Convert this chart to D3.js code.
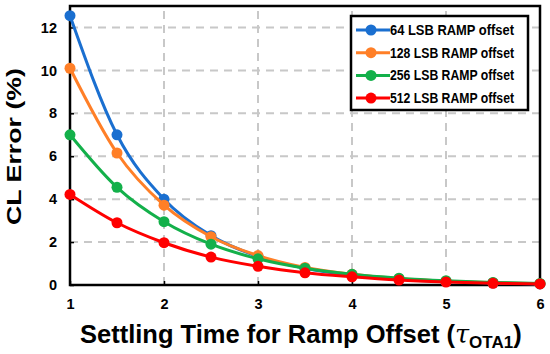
<!DOCTYPE html>
<html lang="en">
<head>
<meta charset="UTF-8">
<title>CL Error vs Settling Time</title>
<script src="https://cdnjs.cloudflare.com/ajax/libs/d3/7.8.5/d3.min.js"></script>
<style>
  body { margin: 0; background: #fff; }
  svg { display: block; font-family: Arial, "Liberation Sans", sans-serif; }
</style>
</head>
<body>
<div id="chart"></div>
<script>
    const settling = [1, 1.5, 2, 2.5, 3, 3.5, 4, 4.5, 5, 5.5, 6];
    const err64  = [12.55, 7.0, 4.0, 2.3, 1.33, 0.78, 0.46, 0.27, 0.16, 0.09, 0.05];
    const err128 = [10.1, 6.15, 3.72, 2.25, 1.37, 0.82, 0.5, 0.3, 0.18, 0.11, 0.06];
    const err256 = [7.0, 4.55, 2.95, 1.9, 1.22, 0.78, 0.5, 0.32, 0.2, 0.12, 0.07];
    const err512 = [4.22, 2.9, 1.97, 1.3, 0.87, 0.57, 0.38, 0.23, 0.14, 0.08, 0.05];
    const seriesNames = ["64 LSB RAMP offset", "128 LSB RAMP offset", "256 LSB RAMP offset", "512 LSB RAMP offset"];
    const seriesColors = ["#1a6fd0", "#ff7f27", "#13b04a", "#ff0000"];
    const xTicks = [1, 2, 3, 4, 5, 6];
    const yTicks = [0, 2, 4, 6, 8, 10, 12];

    const series = [err64, err128, err256, err512].map((vals, i) => ({
        name: seriesNames[i], color: seriesColors[i],
        points: vals.map((v, j) => ({ x: settling[j], y: v }))
    }));

    const width = 550, height = 354;
    const margin = { top: 6, right: 10, bottom: 69, left: 70 };

    const svg = d3.select("#chart").append("svg")
        .attr("width", width).attr("height", height);

    const x = d3.scaleLinear().domain([1, 6]).range([margin.left, width - margin.right]);
    const y = d3.scaleLinear().domain([0, 13]).range([height - margin.bottom, margin.top]);

    // grid
    const grid = svg.append("g").attr("stroke", "#c8c8c8").attr("stroke-width", 2)
        .attr("stroke-dasharray", "8,6");
    grid.selectAll("line.gx").data(xTicks.slice(1, -1)).enter().append("line")
        .attr("x1", d => x(d)).attr("x2", d => x(d))
        .attr("y1", y(0)).attr("y2", y(13));
    grid.selectAll("line.gy").data(yTicks.slice(1)).enter().append("line")
        .attr("x1", x(1)).attr("x2", x(6))
        .attr("y1", d => y(d)).attr("y2", d => y(d));

    // frame
    svg.append("rect")
        .attr("x", x(1)).attr("y", y(13))
        .attr("width", x(6) - x(1)).attr("height", y(0) - y(13))
        .attr("fill", "none").attr("stroke", "#000").attr("stroke-width", 2.5);

    // axes
    const xAxis = svg.append("g").attr("transform", `translate(0,${y(0)})`)
        .call(d3.axisBottom(x).tickValues(xTicks).tickSize(-4).tickPadding(14).tickFormat(d3.format("d")));
    const yAxis = svg.append("g").attr("transform", `translate(${x(1)},0)`)
        .call(d3.axisLeft(y).tickValues(yTicks).tickSize(-4).tickPadding(13).tickFormat(d3.format("d")));
    [xAxis, yAxis].forEach(a => {
        a.select(".domain").remove();
        a.selectAll(".tick line").attr("stroke", "#000").attr("stroke-width", 1.5);
        a.selectAll(".tick text").attr("font-size", 14.5).attr("font-weight", "bold")
            .attr("fill", "#000").attr("font-family", "Arial, 'Liberation Sans', sans-serif");
    });

    // lines
    const line = d3.line().x(d => x(d.x)).y(d => y(d.y)).curve(d3.curveMonotoneX);
    const g = svg.append("g");
    series.forEach(s => {
        g.append("path").datum(s.points)
            .attr("fill", "none").attr("stroke", s.color).attr("stroke-width", 3)
            .attr("d", line);
        g.selectAll(null).data(s.points).enter().append("circle")
            .attr("cx", d => x(d.x)).attr("cy", d => y(d.y)).attr("r", 5.5)
            .attr("fill", s.color);
    });

    // legend
    const lg = svg.append("g").attr("transform", "translate(351,16)");
    lg.append("rect").attr("width", 177).attr("height", 94)
        .attr("fill", "#fff").attr("stroke", "#000").attr("stroke-width", 2.5);
    series.forEach((s, i) => {
        const row = lg.append("g").attr("transform", `translate(0,${14 + i * 22.7})`);
        row.append("line").attr("x1", 5).attr("x2", 39).attr("stroke", s.color).attr("stroke-width", 3);
        row.append("circle").attr("cx", 20).attr("r", 5.5).attr("fill", s.color);
        row.append("text").attr("x", 39).attr("dy", "0.36em")
            .attr("font-size", 14).attr("font-weight", "bold")
            .attr("textLength", 124).attr("lengthAdjust", "spacingAndGlyphs")
            .text(s.name);
    });

    // axis titles
    const xt = svg.append("text").attr("x", 80).attr("y", 343)
        .attr("font-size", 25.5).attr("font-weight", "bold");
    xt.append("tspan").text("Settling Time for Ramp Offset (");
    xt.append("tspan").attr("font-style", "italic").attr("font-weight", "normal")
        .attr("font-family", "'DejaVu Serif', serif").text("τ");
    xt.append("tspan").attr("font-size", 17).attr("dy", 5).text("OTA1");
    xt.append("tspan").attr("dy", -5).text(")");

    svg.append("text")
        .attr("transform", `translate(21,${(y(0) + y(13)) / 2 + 1}) rotate(-90)`)
        .attr("text-anchor", "middle").attr("font-size", 21).attr("font-weight", "bold")
        .attr("textLength", 157).attr("lengthAdjust", "spacingAndGlyphs")
        .text("CL Error (%)");
</script>
</body>
</html>
